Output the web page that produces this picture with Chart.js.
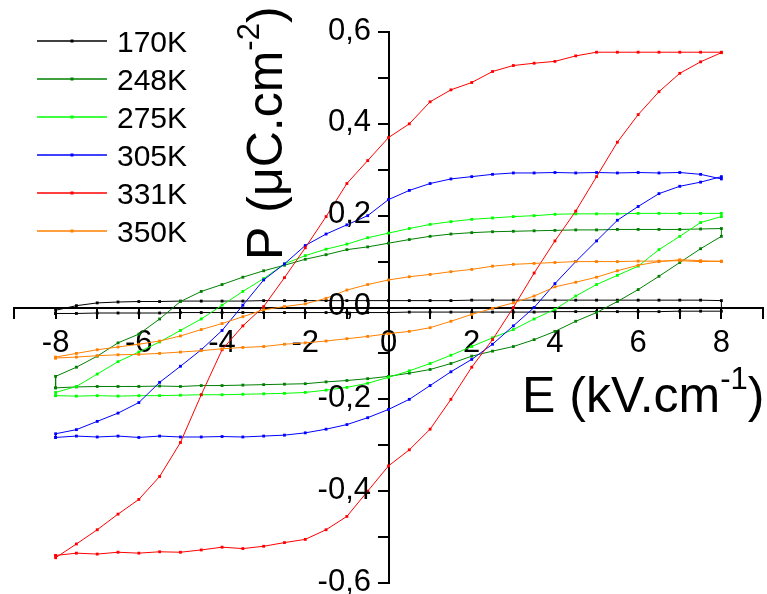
<!DOCTYPE html>
<html>
<head>
<meta charset="utf-8">
<script src="https://cdn.jsdelivr.net/npm/chart.js@4/dist/chart.umd.min.js"></script>
<style>
  html, body { margin: 0; padding: 0; background: #fff; }
  #loops { display: block; }
</style>
</head>
<body>
<canvas id="loops" width="767" height="594"></canvas>
<script>
// electric field grid (kV/cm), shared by every branch
const E = [-8, -7.5, -7, -6.5, -6, -5.5, -5, -4.5, -4, -3.5, -3,
           -2.5, -2, -1.5, -1, -0.5, 0, 0.5, 1, 1.5, 2, 2.5,
           3, 3.5, 4, 4.5, 5, 5.5, 6, 6.5, 7, 7.5, 8];

// polarization (uC/cm2): "lower" = rising field branch, "upper" = falling field branch
const p170Lower = [-0.013, -0.013, -0.012, -0.012, -0.012, -0.012, -0.011, -0.011, -0.011, -0.011, -0.011,
                   -0.011, -0.011, -0.011, -0.011, -0.011, -0.011, -0.010, -0.010, -0.010, -0.010, -0.010,
                   -0.010, -0.010, -0.009, -0.009, -0.009, -0.009, -0.009, -0.009, -0.008, -0.008, -0.008];
const p170Upper = [-0.006, 0.004, 0.010, 0.012, 0.013, 0.013, 0.014, 0.014, 0.014, 0.014, 0.015,
                   0.015, 0.015, 0.015, 0.015, 0.015, 0.015, 0.015, 0.015, 0.015, 0.016, 0.016,
                   0.016, 0.016, 0.016, 0.016, 0.016, 0.016, 0.016, 0.016, 0.016, 0.016, 0.015];

const p248Lower = [-0.175, -0.173, -0.172, -0.172, -0.172, -0.171, -0.172, -0.170, -0.170, -0.169, -0.168,
                   -0.167, -0.166, -0.162, -0.159, -0.155, -0.150, -0.143, -0.135, -0.122, -0.106, -0.095,
                   -0.085, -0.070, -0.052, -0.030, -0.011, 0.013, 0.039, 0.068, 0.098, 0.128, 0.155];
const p248Upper = [-0.150, -0.130, -0.106, -0.077, -0.058, -0.025, 0.013, 0.035, 0.050, 0.066, 0.080,
                   0.092, 0.105, 0.115, 0.126, 0.132, 0.140, 0.148, 0.155, 0.160, 0.163, 0.165,
                   0.166, 0.167, 0.168, 0.169, 0.169, 0.170, 0.170, 0.170, 0.170, 0.171, 0.172];

const p275Lower = [-0.192, -0.193, -0.192, -0.193, -0.192, -0.192, -0.191, -0.190, -0.190, -0.189, -0.188,
                   -0.187, -0.185, -0.180, -0.174, -0.165, -0.152, -0.138, -0.122, -0.104, -0.085, -0.066,
                   -0.048, -0.025, -0.004, 0.025, 0.050, 0.070, 0.090, 0.126, 0.155, 0.185, 0.198];
const p275Upper = [-0.185, -0.172, -0.145, -0.118, -0.097, -0.075, -0.050, -0.025, 0.005, 0.035, 0.063,
                   0.095, 0.113, 0.127, 0.138, 0.152, 0.162, 0.172, 0.181, 0.187, 0.192, 0.195,
                   0.198, 0.200, 0.203, 0.204, 0.204, 0.204, 0.205, 0.205, 0.205, 0.205, 0.205];

const p305Lower = [-0.283, -0.280, -0.282, -0.280, -0.283, -0.280, -0.282, -0.282, -0.281, -0.282, -0.280,
                   -0.278, -0.273, -0.265, -0.255, -0.240, -0.222, -0.200, -0.170, -0.140, -0.113, -0.080,
                   -0.040, 0.000, 0.052, 0.100, 0.145, 0.190, 0.220, 0.248, 0.264, 0.273, 0.285];
const p305Upper = [-0.275, -0.266, -0.248, -0.230, -0.207, -0.163, -0.128, -0.092, -0.050, 0.005, 0.060,
                   0.095, 0.135, 0.160, 0.180, 0.200, 0.235, 0.255, 0.270, 0.280, 0.285, 0.290,
                   0.293, 0.293, 0.294, 0.293, 0.294, 0.293, 0.294, 0.293, 0.294, 0.290, 0.280];

const p331Lower = [-0.540, -0.535, -0.537, -0.533, -0.535, -0.532, -0.533, -0.528, -0.522, -0.525, -0.520,
                   -0.512, -0.505, -0.484, -0.455, -0.400, -0.345, -0.310, -0.265, -0.200, -0.130, -0.070,
                   0.000, 0.075, 0.145, 0.210, 0.285, 0.360, 0.420, 0.470, 0.510, 0.535, 0.555];
const p331Upper = [-0.545, -0.515, -0.484, -0.450, -0.418, -0.368, -0.294, -0.190, -0.092, -0.040, 0.002,
                   0.065, 0.130, 0.198, 0.270, 0.320, 0.370, 0.400, 0.448, 0.474, 0.490, 0.514,
                   0.527, 0.532, 0.536, 0.548, 0.556, 0.556, 0.556, 0.556, 0.556, 0.556, 0.556];

const p350Lower = [-0.110, -0.108, -0.105, -0.103, -0.102, -0.100, -0.097, -0.094, -0.090, -0.087, -0.085,
                   -0.080, -0.077, -0.073, -0.068, -0.063, -0.057, -0.052, -0.044, -0.030, -0.015, -0.002,
                   0.010, 0.025, 0.045, 0.055, 0.066, 0.080, 0.092, 0.100, 0.104, 0.102, 0.100];
const p350Upper = [-0.108, -0.100, -0.092, -0.086, -0.080, -0.073, -0.062, -0.048, -0.035, -0.020, -0.005,
                   0.002, 0.008, 0.020, 0.038, 0.050, 0.060, 0.067, 0.072, 0.078, 0.083, 0.090,
                   0.094, 0.096, 0.098, 0.100, 0.100, 0.100, 0.101, 0.101, 0.102, 0.100, 0.101];

const temps = ['170K', '248K', '275K', '305K', '331K', '350K'];
const colors = ['#000000', '#008000', '#00ff00', '#0000ff', '#ff0000', '#ff8000'];
const branches = [
  [p170Lower, p170Upper],
  [p248Lower, p248Upper],
  [p275Lower, p275Upper],
  [p305Lower, p305Upper],
  [p331Lower, p331Upper],
  [p350Lower, p350Upper]
];

// go up along the lower branch, come back along the upper one, close the loop
function loop(lower, upper) {
  const pts = lower.map((p, i) => ({ x: E[i], y: p }));
  for (let i = upper.length - 1; i >= 0; i--) pts.push({ x: E[i], y: upper[i] });
  pts.push({ x: E[0], y: lower[0] });
  return pts;
}

const FONT = '"Liberation Sans", Arial, sans-serif';

const legendPlugin = {
  id: 'sideLegend',
  afterDraw(chart) {
    const ctx = chart.ctx;
    ctx.save();
    chart.data.datasets.forEach((ds, i) => {
      const y = 41 + 38 * i;
      ctx.strokeStyle = ds.borderColor;
      ctx.lineWidth = 1.5;
      ctx.beginPath();
      ctx.moveTo(37, y);
      ctx.lineTo(107, y);
      ctx.stroke();
      ctx.fillStyle = ds.borderColor;
      ctx.fillRect(70.5, y - 1.5, 3, 3);
      ctx.fillStyle = '#000';
      ctx.font = '30px ' + FONT;
      ctx.textAlign = 'left';
      ctx.textBaseline = 'alphabetic';
      ctx.fillText(ds.label, 117, y + 11);
    });
    ctx.restore();
  }
};

// y tick labels: chart.js puts centred-axis labels right on the line, so place them here
const yLabelPlugin = {
  id: 'yLabels',
  afterDraw(chart) {
    const ys = chart.scales.y;
    const x0 = chart.scales.x.getPixelForValue(0);
    const ctx = chart.ctx;
    ctx.save();
    ctx.fillStyle = '#000';
    ctx.font = '31px ' + FONT;
    ctx.textAlign = 'right';
    ctx.textBaseline = 'middle';
    ys.ticks.forEach(t => {
      const k = Math.round(t.value * 10);
      if (k % 2 !== 0) return;
      const txt = (k / 10).toFixed(1).replace('.', ',');
      ctx.fillText(txt, x0 - 17.5, ys.getPixelForValue(t.value) - 1);
    });
    ctx.restore();
  }
};

// axis titles with superscript exponents
function drawPieces(ctx, pieces) {
  let x = 0;
  pieces.forEach(([txt, size, rise]) => {
    ctx.font = size + 'px ' + FONT;
    ctx.fillText(txt, x, -rise);
    x += ctx.measureText(txt).width;
  });
}

const titlePlugin = {
  id: 'axisTitles',
  afterDraw(chart) {
    const ctx = chart.ctx;
    ctx.save();
    ctx.fillStyle = '#000';
    ctx.textAlign = 'left';
    ctx.textBaseline = 'alphabetic';
    ctx.save();
    ctx.translate(522, 412);
    drawPieces(ctx, [['E (kV.cm', 50, 0], ['-1', 31, 23], [')', 50, 0]]);
    ctx.restore();
    ctx.save();
    ctx.translate(282, 260);
    ctx.rotate(-Math.PI / 2);
    drawPieces(ctx, [['P (\u03BCC.cm', 50, 0], ['-2', 31, 23], [')', 50, 0]]);
    ctx.restore();
    ctx.restore();
  }
};

function noPad(axis) {
  axis.paddingTop = 0;
  axis.paddingBottom = 0;
  axis.paddingLeft = 0;
  axis.paddingRight = 0;
}

new Chart(document.getElementById('loops'), {
  type: 'scatter',
  data: {
    datasets: temps.map((t, i) => ({
      label: t,
      data: loop(branches[i][0], branches[i][1]),
      showLine: true,
      borderColor: colors[i],
      backgroundColor: colors[i],
      borderWidth: 1,
      pointStyle: 'rect',
      pointRadius: 2,
      pointBorderWidth: 0,
      tension: 0,
      order: temps.length - i
    }))
  },
  options: {
    responsive: false,
    animation: false,
    layout: { padding: { left: 14, right: 3, top: 32, bottom: 11 } },
    plugins: {
      legend: { display: false },
      tooltip: { enabled: false }
    },
    scales: {
      x: {
        type: 'linear',
        min: -9,
        max: 9,
        position: { y: 0 },
        afterFit: noPad,
        border: { color: '#000', width: 2 },
        grid: { drawOnChartArea: false, color: '#000', lineWidth: 2, tickLength: 10 },
        ticks: {
          stepSize: 1,
          padding: 7,
          color: '#000',
          font: { family: FONT, size: 31 },
          maxRotation: 0,
          autoSkip: false,
          callback: v => (Math.abs(v) <= 8 && Math.round(v) % 2 === 0) ? String(v) : ''
        }
      },
      y: {
        type: 'linear',
        min: -0.6,
        max: 0.6,
        position: { x: 0 },
        afterFit: noPad,
        border: { color: '#000', width: 2 },
        grid: { drawOnChartArea: false, color: '#000', lineWidth: 2, tickLength: 10 },
        ticks: {
          display: false,
          stepSize: 0.1,
          autoSkip: false
        }
      }
    }
  },
  plugins: [legendPlugin, yLabelPlugin, titlePlugin]
});
</script>
</body>
</html>
